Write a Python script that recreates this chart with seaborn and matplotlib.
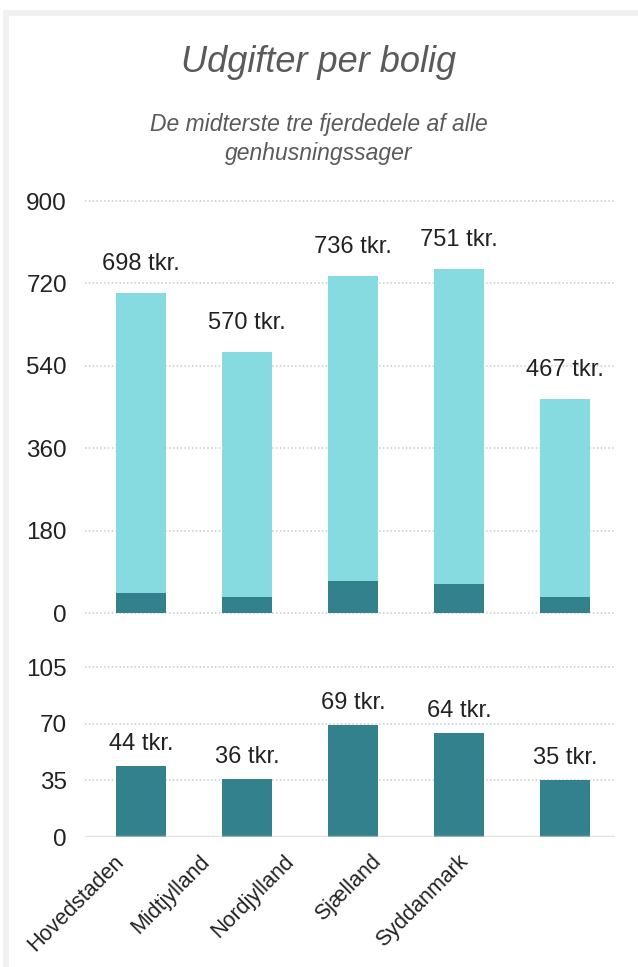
import matplotlib
matplotlib.use("Agg")
import matplotlib.pyplot as plt
import matplotlib.transforms as mtransforms
import seaborn as sns
import pandas as pd
from matplotlib.patches import Rectangle

regions = ["Hovedstaden", "Midtjylland", "Nordjylland", "Sjælland", "Syddanmark"]
upper_values = [698, 570, 736, 751, 467]
lower_values = [44, 36, 69, 64, 35]
upper_ticks = [0, 180, 360, 540, 720, 900]
lower_ticks = [0, 35, 70, 105]
title = "Udgifter per bolig"
subtitle = "De midterste tre fjerdedele af alle\ngenhusningssager"

light = "#86dbe1"
dark = "#33818c"
grid_c = "#c9c9c9"

sns.set_theme(style="white")
plt.rcParams["font.family"] = ["Liberation Sans", "DejaVu Sans"]

df = pd.DataFrame({"region": regions, "upper": upper_values, "lower": lower_values})

fig = plt.figure(figsize=(6.38, 9.67), dpi=100)
fig.patch.set_facecolor("white")
# light gray frame strips
fig.add_artist(Rectangle((3/638, 1-16/967), 635/638, 6/967, transform=fig.transFigure,
                         facecolor="#f1f1f1", edgecolor="none"))
fig.add_artist(Rectangle((3/638, 0), 6/638, 1-10/967, transform=fig.transFigure,
                         facecolor="#f1f1f1", edgecolor="none"))

fig.text(0.5, 1-62/967, title, ha="center", va="center", fontsize=26,
         style="italic", color="#5a5a5a")
fig.text(0.5, 1-139/967, subtitle, ha="center", va="center", fontsize=16.5,
         style="italic", color="#5a5a5a", linespacing=1.3)

ax1 = fig.add_axes([85/638, 1-613/967, 530/638, 412/967])
ax2 = fig.add_axes([85/638, 1-837/967, 530/638, 170/967])

bw = 0.47
kw = dict(saturation=1, width=bw, linewidth=0, edgecolor="none")
sns.barplot(data=df, x="region", y="upper", color=light, ax=ax1, zorder=2, **kw)
sns.barplot(data=df, x="region", y="lower", color=dark, ax=ax1, zorder=3, **kw)
sns.barplot(data=df, x="region", y="lower", color=dark, ax=ax2, zorder=2, **kw)

ax1.bar_label(ax1.containers[0], labels=[f"{v} tkr." for v in upper_values],
              padding=13, fontsize=17, color="#222222")
ax2.bar_label(ax2.containers[0], labels=[f"{v} tkr." for v in lower_values],
              padding=8, fontsize=17, color="#222222")

for ax, ticks in ((ax1, upper_ticks), (ax2, lower_ticks)):
    ax.set_xlim(-0.528, 4.472)
    ax.set_ylim(ticks[0], ticks[-1])
    ax.set_yticks(ticks)
    ax.set_yticklabels([str(t) for t in ticks], fontsize=17.5, color="#222222")
    ax.tick_params(axis="y", length=0, pad=13)
    ax.set_xlabel("")
    ax.set_ylabel("")
    for s in ax.spines.values():
        s.set_visible(False)
    ax.set_facecolor("none")
    for t in ticks:
        if ax is ax2 and t == 0:
            continue
        ax.axhline(t, color=grid_c, lw=1.1, ls=(0, (1, 1.5)), zorder=1, clip_on=False)

ax1.set_xticks(range(len(regions)))
ax1.set_xticklabels([])
ax1.tick_params(axis="x", length=0)

ax2.axhline(0, color="#d0d0d0", lw=2.5, alpha=0.6, zorder=4)
ax2.set_xticks(range(len(regions)))
ax2.set_xticklabels(regions, rotation=45, ha="right", rotation_mode="anchor",
                    fontsize=15.5, color="#222222")
ax2.tick_params(axis="x", length=0, pad=10)

# the reference's category labels sit progressively left of their bars
shifts_px = [-28, -48, -69, -88, -107]
for lab, dx in zip(ax2.get_xticklabels(), shifts_px):
    lab.set_transform(lab.get_transform() +
                      mtransforms.ScaledTranslation(dx / 100, 0, fig.dpi_scale_trans))

fig.savefig("out.png", dpi=100)
